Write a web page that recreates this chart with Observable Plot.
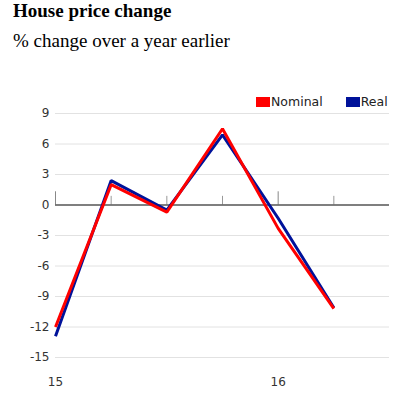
<!DOCTYPE html>
<html>
<head>
<meta charset="utf-8">
<script src="https://cdn.jsdelivr.net/npm/d3@7"></script>
<script src="https://cdn.jsdelivr.net/npm/@observablehq/plot@0.6"></script>
<style>
  html, body { margin: 0; padding: 0; background: #fff; }
  #wrap { position: relative; width: 416px; height: 393px; overflow: hidden; }
  #title { position: absolute; left: 13px; top: 0px; font: bold 19px "Liberation Serif", "Times New Roman", serif; color: #000; line-height: 22px; }
  #subtitle { position: absolute; left: 13px; top: 30px; font: 19px "Liberation Serif", "Times New Roman", serif; color: #000; line-height: 22px; }
  #legend { position: absolute; left: 256px; top: 94px; font: 12.5px "DejaVu Sans", Verdana, sans-serif; color: #222; display: flex; align-items: center; }
  .sw { display: inline-block; width: 14px; height: 10px; margin-right: 1px; }
  .item { display: flex; align-items: center; margin-right: 23px; }
  #chart { position: absolute; left: 0; top: 0; }
</style>
</head>
<body>
<div id="wrap">
  <div id="chart"></div>
  <div id="title">House price change</div>
  <div id="subtitle">% change over a year earlier</div>
  <div id="legend"></div>
</div>
<script>
const quarters = ["2015Q1", "2015Q2", "2015Q3", "2015Q4", "2016Q1", "2016Q2"];
const nominal = [-12.0, 2.0, -0.7, 7.5, -2.3, -10.2];
const real = [-12.9, 2.4, -0.5, 6.9, -1.3, -10.1];
const seriesNames = ["Nominal", "Real"];
const seriesColors = ["#ff0000", "#00129a"];
const yTicks = [-15, -12, -9, -6, -3, 0, 3, 6, 9];
const xTickLabels = ["15", "16"];
const xTickIndex = [0, 4];
const majorTicks = [0, 4];
const minorTicks = [1, 2, 3, 5];

const rows = [];
quarters.forEach((q, i) => {
  rows.push({i, q, series: "Real", value: real[i]});
});
quarters.forEach((q, i) => {
  rows.push({i, q, series: "Nominal", value: nominal[i]});
});

const chart = Plot.plot({
  width: 416,
  height: 393,
  marginLeft: 55,
  marginRight: 27,
  marginTop: 113,
  marginBottom: 36,
  style: {fontFamily: "'DejaVu Sans', Verdana, sans-serif", fontSize: "12px", color: "#333", background: "transparent"},
  x: {domain: [0, 6], label: null},
  y: {domain: [-15, 9], label: null},
  color: {domain: seriesNames, range: seriesColors},
  marks: [
    Plot.ruleY(yTicks.filter(d => d !== 0), {stroke: "#e2e2e2", strokeWidth: 1}),
    Plot.ruleX(majorTicks, {x: d => d, y1: 0, y2: 1.3, stroke: "#888", strokeWidth: 1}),
    Plot.ruleX(minorTicks, {x: d => d, y1: 0, y2: 0.85, stroke: "#999", strokeWidth: 1}),
    Plot.ruleY([0], {stroke: "#555", strokeWidth: 1.5}),
    Plot.line(rows, {x: "i", y: "value", z: "series", stroke: "series", strokeWidth: 3, strokeLinejoin: "miter", strokeLinecap: "butt"}),
    Plot.axisY({ticks: yTicks, tickSize: 0, tickPadding: 6, tickFormat: d => String(d), fill: "#333", label: null}),
    Plot.axisX({ticks: xTickIndex, tickSize: 0, tickPadding: 20, tickFormat: d => xTickLabels[xTickIndex.indexOf(d)], fill: "#333", label: null})
  ]
});
document.getElementById("chart").appendChild(chart);

const legend = document.getElementById("legend");
seriesNames.forEach((name, k) => {
  const item = document.createElement("span");
  item.className = "item";
  const sw = document.createElement("span");
  sw.className = "sw";
  sw.style.background = seriesColors[k];
  item.appendChild(sw);
  item.appendChild(document.createTextNode(name));
  legend.appendChild(item);
});
</script>
</body>
</html>
